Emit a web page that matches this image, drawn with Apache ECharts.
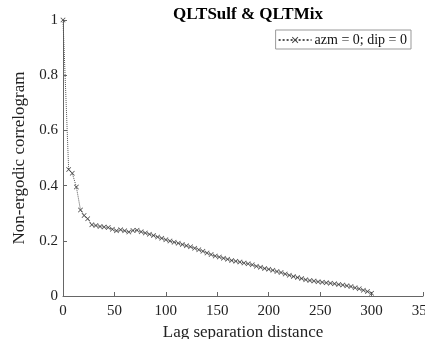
<!DOCTYPE html>
<html>
<head>
<meta charset="utf-8">
<script src="https://cdn.jsdelivr.net/npm/echarts@6/dist/echarts.min.js"></script>
<style>
  body { margin: 0; padding: 0; background: #fff; }
  #chart { width: 425px; height: 339px; }
</style>
</head>
<body>
<div id="chart"></div>
<script>
// lag separation distances and correlogram values
var lags = [0, 5.5, 9, 13, 17, 20.5, 24, 28, 32, 36, 40, 44, 48, 52, 56, 60, 64, 68, 72, 76,
  80, 84, 88, 92, 96, 100, 104, 108, 112, 116, 120, 124, 128, 132, 136, 140, 144, 148, 152, 156,
  160, 164, 168, 172, 176, 180, 184, 188, 192, 196, 200, 204, 208, 212, 216, 220, 224, 228, 232, 236,
  240, 244, 248, 252, 256, 260, 264, 268, 272, 276, 280, 284, 288, 292, 296, 300];
var corr = [1.0, 0.458, 0.445, 0.395, 0.312, 0.292, 0.280, 0.258, 0.255, 0.252, 0.250, 0.248, 0.242, 0.236, 0.240, 0.236, 0.232, 0.237, 0.238, 0.233,
  0.228, 0.224, 0.219, 0.214, 0.209, 0.204, 0.199, 0.195, 0.191, 0.187, 0.182, 0.178, 0.173, 0.168, 0.162, 0.156, 0.150, 0.145, 0.141, 0.137,
  0.133, 0.129, 0.126, 0.123, 0.120, 0.117, 0.113, 0.108, 0.104, 0.100, 0.097, 0.093, 0.089, 0.085, 0.080, 0.075, 0.071, 0.067, 0.063, 0.059,
  0.056, 0.054, 0.052, 0.050, 0.048, 0.046, 0.044, 0.042, 0.040, 0.037, 0.034, 0.030, 0.026, 0.021, 0.016, 0.010];
var seriesName = "azm = 0; dip = 0";

var points = lags.map(function (x, i) { return [x, corr[i]]; });

// x-shaped marker
var crossMark = "path://M0,1L1,0L5,4L9,0L10,1L6,5L10,9L9,10L5,6L1,10L0,9L4,5Z";
var serif = "Liberation Serif";

var chart = echarts.init(document.getElementById("chart"));
chart.setOption({
  animation: false,
  backgroundColor: "#fff",
  title: {
    text: "QLTSulf & QLTMix",
    left: 243,
    top: 1,
    textAlign: "center",
    textStyle: { fontFamily: serif, fontSize: 17, fontWeight: "bold", color: "#000" }
  },
  legend: {
    right: 14,
    top: 30,
    itemWidth: 33,
    itemHeight: 8,
    itemGap: 4,
    padding: [3, 4, 2, 2],
    borderColor: "#999",
    borderWidth: 1,
    backgroundColor: "#fff",
    borderRadius: 0,
    textStyle: { fontFamily: serif, fontSize: 14, color: "#111", padding: [0, 0, 0, -2] },
    data: [seriesName]
  },
  grid: { left: 63, right: 2, top: 20, bottom: 43, outerBoundsMode: "none" },
  xAxis: {
    type: "value",
    min: 0,
    max: 350,
    interval: 50,
    name: "Lag separation distance",
    nameLocation: "middle",
    nameGap: 24,
    nameTextStyle: { fontFamily: serif, fontSize: 17, color: "#222" },
    axisLine: { lineStyle: { color: "#666" } },
    axisTick: { inside: true, length: 4, lineStyle: { color: "#666" } },
    axisLabel: { fontFamily: serif, fontSize: 15, color: "#222", margin: 8 },
    splitLine: { show: false }
  },
  yAxis: {
    type: "value",
    min: 0,
    max: 1,
    interval: 0.2,
    name: "Non-ergodic correlogram",
    nameLocation: "middle",
    nameGap: 29,
    nameTextStyle: { fontFamily: serif, fontSize: 17, color: "#222" },
    axisLine: { show: true, lineStyle: { color: "#666" } },
    axisTick: { show: true, inside: true, length: 4, lineStyle: { color: "#666" } },
    axisLabel: { fontFamily: serif, fontSize: 15, color: "#222", margin: 5 },
    splitLine: { show: false }
  },
  series: [{
    name: seriesName,
    type: "line",
    data: points,
    symbol: crossMark,
    symbolSize: 5,
    showAllSymbol: true,
    itemStyle: { color: "#444" },
    lineStyle: { color: "#555", width: 1, type: "dotted" }
  }]
});
</script>
</body>
</html>
